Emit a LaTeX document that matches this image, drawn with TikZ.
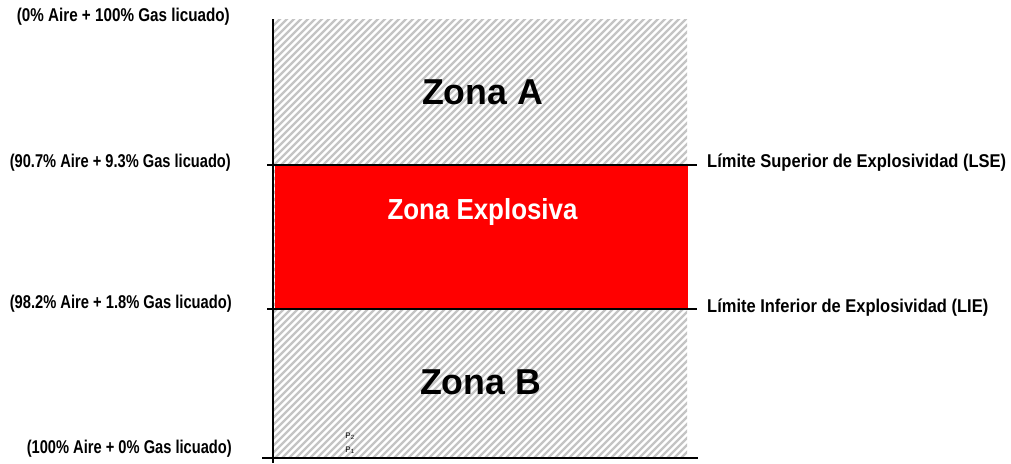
\documentclass[tikz,border=0pt]{standalone}
\usepackage{fontspec}
\setmainfont{Liberation Sans}
\usepackage{graphicx}
\definecolor{zred}{HTML}{FF0000}
\definecolor{hatchgray}{HTML}{C4C4C4}
\newcommand{\fitw}[2]{\resizebox{#1}{\height}{#2}}
\tikzset{
  lbl/.style={inner sep=0pt, font=\fontsize{18.5}{18.5}\selectfont\bfseries},
  zone/.style={inner sep=0pt, font=\fontsize{36}{36}\selectfont\bfseries},
  limline/.style={line width=1.8pt, black},
  tiny/.style={inner sep=0pt, font=\fontsize{8}{8}\selectfont}
}
\begin{document}
\begin{tikzpicture}[x=1pt,y=-1pt]
\useasboundingbox (0,0) rectangle (1011,463);
\fill[white] (0,0) rectangle (1011,463);
% hatched area
\begin{scope}
  \clip (273,19) rectangle (687,458);
  \foreach \i in {0,...,135} {
    \draw[hatchgray, line width=2.3pt] (273+\i*7-460,458) -- (273+\i*7,-2);
  }
\end{scope}
% explosive zone
\fill[zred] (275,165) rectangle (688,309);
% axes and limit lines
\coordinate (axtop) at (273,19);
\coordinate (axbot) at (273,463);
\coordinate (lseL) at (267,165);
\coordinate (lseR) at (697,165);
\coordinate (lieL) at (267,309);
\coordinate (lieR) at (697,309);
\coordinate (botL) at (262,458);
\coordinate (botR) at (698,458);
\draw[limline] (axtop) -- (axbot);
\draw[limline] (lseL) -- (lseR);
\draw[limline] (lieL) -- (lieR);
\draw[limline] (botL) -- (botR);
% left labels
\node[lbl, anchor=east] (l0) at (230,17) {\fitw{213pt}{(0\% Aire + 100\% Gas licuado)}};
\node[lbl, anchor=east] (l1) at (231,163) {\fitw{221pt}{(90.7\% Aire + 9.3\% Gas licuado)}};
\node[lbl, anchor=east] (l2) at (232,304) {\fitw{222pt}{(98.2\% Aire + 1.8\% Gas licuado)}};
\node[lbl, anchor=east] (l3) at (232,449) {\fitw{205pt}{(100\% Aire + 0\% Gas licuado)}};
% right labels
\node[lbl, anchor=west] (lse) at (707,163) {\fitw{299pt}{Límite Superior de Explosividad (LSE)}};
\node[lbl, anchor=west] (lie) at (707,308) {\fitw{281pt}{Límite Inferior de Explosividad (LIE)}};
% zones
\node[zone] (za) at (482.5,92) {\fitw{121pt}{Zona A}};
\node[zone, font=\fontsize{29}{29}\selectfont\bfseries, text=white] (zx) at (482.5,212) {\fitw{190pt}{Zona Explosiva}};
\node[zone] (zb) at (480.5,382) {\fitw{121pt}{Zona B}};
% points
\node[tiny] (p2) at (350,436) {P\textsubscript{2}};
\node[tiny] (p1) at (350,450) {P\textsubscript{1}};
\end{tikzpicture}
\end{document}
